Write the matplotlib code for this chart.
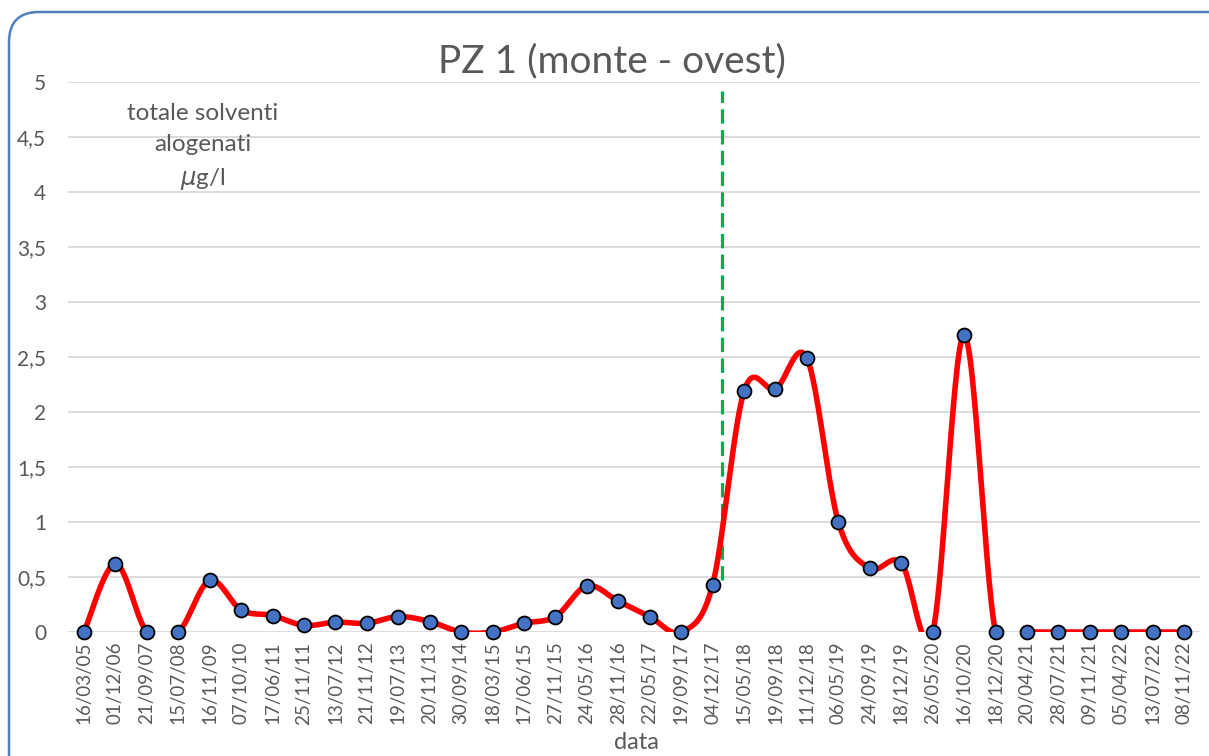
import numpy as np
import matplotlib
matplotlib.use("Agg")
import matplotlib.pyplot as plt
from matplotlib.patches import FancyBboxPatch

plt.rcParams['font.family'] = ['Lato', 'DejaVu Sans']

date_labels = ["16/03/05", "01/12/06", "21/09/07", "15/07/08", "16/11/09", "07/10/10",
               "17/06/11", "25/11/11", "13/07/12", "21/11/12", "19/07/13", "20/11/13",
               "30/09/14", "18/03/15", "17/06/15", "27/11/15", "24/05/16", "28/11/16",
               "22/05/17", "19/09/17", "04/12/17", "15/05/18", "19/09/18", "11/12/18",
               "06/05/19", "24/09/19", "18/12/19", "26/05/20", "16/10/20", "18/12/20",
               "20/04/21", "28/07/21", "09/11/21", "05/04/22", "13/07/22", "08/11/22"]
solventi = [0, 0.62, 0, 0, 0.47, 0.20,
            0.15, 0.06, 0.09, 0.08, 0.14, 0.095,
            0, 0, 0.08, 0.14, 0.42, 0.28,
            0.14, 0, 0.43, 2.19, 2.21, 2.49,
            1.0, 0.58, 0.63, 0, 2.70, 0,
            0, 0, 0, 0, 0, 0]
y_ticks = [0, 0.5, 1, 1.5, 2, 2.5, 3, 3.5, 4, 4.5, 5]
y_tick_labels = ["0", "0,5", "1", "1,5", "2", "2,5", "3", "3,5", "4", "4,5", "5"]
cambio_x = 20.3          # linea verde tratteggiata
cambio_y = (0.47, 4.92)

GRAY = "#595959"


def smooth_excel(x, y, n=30):
    # curva tipo "linea smussata" di Excel (Bezier Catmull-Rom)
    x = np.asarray(x, float)
    y = np.asarray(y, float)
    px = np.concatenate([[x[0]], x, [x[-1]]])
    py = np.concatenate([[y[0]], y, [y[-1]]])
    t = np.linspace(0, 1, n)
    xs, ys = [], []
    for i in range(1, len(px) - 2):
        p0 = np.array([px[i], py[i]])
        p3 = np.array([px[i + 1], py[i + 1]])
        c1 = p0 + (np.array([px[i + 1], py[i + 1]]) - np.array([px[i - 1], py[i - 1]])) / 6
        c2 = p3 - (np.array([px[i + 2], py[i + 2]]) - np.array([px[i], py[i]])) / 6
        b = ((1 - t) ** 3)[:, None] * p0 + (3 * (1 - t) ** 2 * t)[:, None] * c1 \
            + (3 * (1 - t) * t ** 2)[:, None] * c2 + (t ** 3)[:, None] * p3
        xs.append(b[:, 0])
        ys.append(b[:, 1])
    return np.concatenate(xs), np.concatenate(ys)


fig = plt.figure(figsize=(12.09, 7.56), dpi=100)
ax = fig.add_axes([0.0565, 0.164, 0.9359, 0.7275])

xi = np.arange(len(date_labels))
sx, sy = smooth_excel(xi, solventi)
ax.plot(sx, sy, color="red", lw=4, zorder=3, solid_capstyle="round")
ax.plot(xi, solventi, ls="none", marker="o", ms=10, mfc="#4472C4", mec="black",
        mew=1.3, zorder=4, clip_on=False)

ax.plot([cambio_x, cambio_x], cambio_y, color="#00B050", lw=2.3, ls=(0, (4.5, 2)), zorder=2)

ax.set_xlim(-0.5, len(date_labels) - 0.5)
ax.set_ylim(0, 5)
ax.set_yticks(y_ticks)
ax.set_yticklabels(y_tick_labels)
ax.set_xticks(xi)
ax.set_xticklabels(date_labels, rotation=90)
ax.tick_params(axis="both", length=0, labelcolor=GRAY)
ax.tick_params(axis="x", pad=7, labelsize=13.5)
ax.tick_params(axis="y", pad=16, labelsize=15)
ax.grid(axis="y", color="#D9D9D9", lw=1.3)
ax.set_axisbelow(True)
for s in ax.spines.values():
    s.set_visible(False)

fig.text(0.5265, 0.0185, "data", ha="center", va="center", fontsize=17, color=GRAY)
fig.text(0.5065, 0.919, "PZ 1 (monte - ovest)", ha="center", va="center",
         fontsize=28, color=GRAY)
ax.text(0.119, 0.881, "totale solventi\nalogenati\n$\\mu$g/l", transform=ax.transAxes,
        ha="center", va="center", multialignment="center", fontsize=17.5,
        color=GRAY, linespacing=1.6)

# cornice arrotondata
frame = FancyBboxPatch((0.09, -0.3), 12.4, 7.74, boxstyle="round,pad=0,rounding_size=0.3",
                       transform=fig.dpi_scale_trans, fc="none", ec="#4F81BD", lw=1.8)
fig.patches.append(frame)

plt.savefig("out.png", dpi=100)
